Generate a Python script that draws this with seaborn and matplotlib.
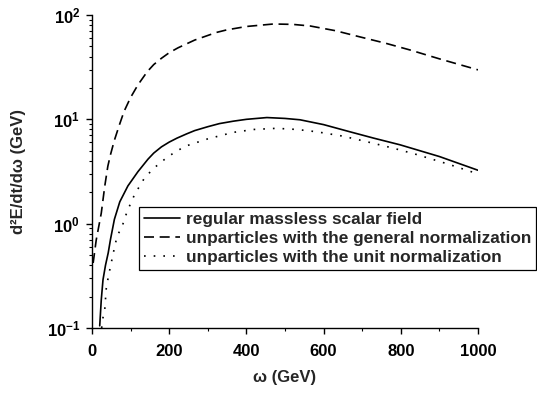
import matplotlib
matplotlib.use("Agg")
import matplotlib.pyplot as plt
import matplotlib.ticker as mticker
import seaborn as sns
import pandas as pd
import numpy as np

# ---- data ----
omega_regular = [20, 24, 28.5, 35, 42, 48, 58, 72, 93, 119, 145, 160, 180, 200, 220,
                 245, 266, 300, 330, 366, 400, 453, 500, 539, 600, 668, 730, 798,
                 900, 1000]
val_regular = [0.105, 0.186, 0.29, 0.40, 0.525, 0.71, 1.10, 1.62, 2.30, 3.15, 4.15,
               4.75, 5.45, 6.05, 6.6, 7.25, 7.8, 8.5, 9.1, 9.6, 10.0, 10.4, 10.2, 9.9,
               8.9, 7.6, 6.6, 5.7, 4.4, 3.25]

omega_general = [3, 11, 24, 33, 41, 48, 58, 71, 83, 100, 119, 143, 160, 180, 200, 223,
                 266, 322, 349, 400, 470, 520, 565, 630, 694, 760, 824, 900, 1000]
val_general = [0.42, 0.70, 1.26, 2.28, 3.55, 4.6, 6.3, 8.85, 11.9, 16.2, 21.4, 28.6,
               33.5, 38.5, 43.5, 48.5, 57.5, 68, 72, 77.6, 82, 81.3, 78.5, 70.8, 61.7,
               53.7, 46.2, 38, 29.8]

omega_unit = [25, 28.5, 33, 37, 43, 48, 55, 65, 78, 91, 110, 123, 136, 160, 197, 240,
              300, 366, 420, 478, 530, 582, 650, 712, 780, 841, 920, 1000]
val_unit = [0.10, 0.126, 0.15, 0.24, 0.32, 0.39, 0.52, 0.76, 0.94, 1.31, 1.89, 2.28,
            2.74, 3.4, 4.4, 5.5, 6.5, 7.5, 8.0, 8.2, 8.0, 7.6, 6.9, 6.1, 5.3, 4.6,
            3.75, 3.0]

labels = ["regular massless scalar field",
          "unparticles with the general normalization",
          "unparticles with the unit normalization"]

x_ticks = [0, 200, 400, 600, 800, 1000]

# ---- style ----
sns.set_style("ticks")
plt.rcParams["font.family"] = ["Liberation Sans", "DejaVu Sans"]
plt.rcParams["font.weight"] = "bold"
plt.rcParams["axes.labelweight"] = "bold"

fig = plt.figure(figsize=(5.37, 3.96), dpi=100)
ax = fig.add_axes([92/537, 1 - 328/396, (478 - 92)/537, (328 - 15)/396])

df = pd.concat([
    pd.DataFrame({"omega": omega_regular, "val": val_regular, "series": labels[0]}),
    pd.DataFrame({"omega": omega_general, "val": val_general, "series": labels[1]}),
    pd.DataFrame({"omega": omega_unit, "val": val_unit, "series": labels[2]}),
])

dash_styles = {labels[0]: None, labels[1]: (6.0, 3.4), labels[2]: (1.0, 4.8)}

for lab in labels:
    sub = df[df["series"] == lab]
    sns.lineplot(data=sub, x="omega", y="val", ax=ax, color="black",
                 lw=1.2, label=lab, estimator=None, sort=False)
    l = ax.get_lines()[-1]
    if dash_styles[lab] is not None:
        l.set_dashes(dash_styles[lab])

ax.set_yscale("log")
ax.set_xlim(0, 1000)
ax.set_ylim(0.1, 100)
ax.set_xticks(x_ticks)
ax.xaxis.set_minor_locator(mticker.MultipleLocator(100))
ax.yaxis.set_major_locator(mticker.LogLocator(base=10, numticks=10))
ax.yaxis.set_minor_locator(mticker.LogLocator(base=10, subs=np.arange(2, 10), numticks=10))
ax.yaxis.set_minor_formatter(mticker.NullFormatter())

for s in ["top", "right"]:
    ax.spines[s].set_visible(False)
for s in ["left", "bottom"]:
    ax.spines[s].set_linewidth(1.0)
    ax.spines[s].set_color("black")

ax.tick_params(axis="both", which="major", direction="out", length=4.5, width=1.0,
               colors="black", labelsize=12)
ax.tick_params(axis="both", which="minor", direction="out", length=2.5, width=0.8,
               colors="black")
ax.tick_params(axis="x", which="major", pad=7)
ax.tick_params(axis="y", which="major", pad=4)
for t in ax.get_xticklabels() + ax.get_yticklabels():
    t.set_fontweight("bold")

ax.set_xlabel("ω (GeV)", fontsize=12, fontweight="bold", labelpad=8)
ax.set_ylabel("d²E/dt/dω (GeV)", fontsize=12, fontweight="bold", labelpad=15)

leg = ax.legend(loc="upper left", bbox_to_anchor=(0.122, 0.387), frameon=True,
                fancybox=False, framealpha=1, edgecolor="black",
                prop={"weight": "bold", "size": 12.4}, handlelength=2.1,
                handletextpad=0.3, labelspacing=0.22, borderpad=0.3,
                borderaxespad=0)
leg.get_frame().set_linewidth(0.9)
for h in leg.get_lines():
    h.set_linewidth(1.2)

fig.savefig("out.png", dpi=100)
